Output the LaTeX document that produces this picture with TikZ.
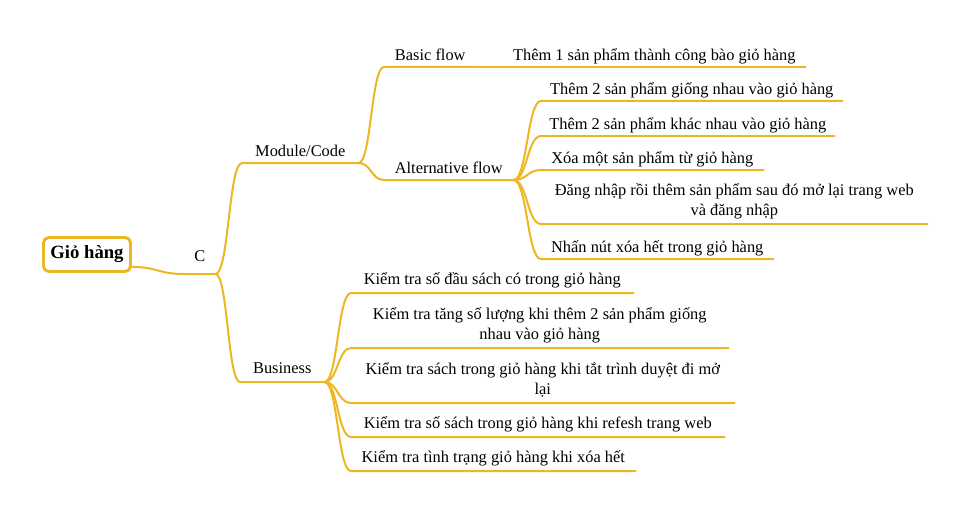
\documentclass[tikz,border=0pt]{standalone}
\usepackage{fontspec}
\setmainfont{Liberation Serif}
\usetikzlibrary{calc,backgrounds}
\definecolor{gold}{RGB}{236,183,33}
\newcommand{\leaffont}{\fontsize{12.3}{14.6}\selectfont}
\newcommand{\rootfont}{\fontsize{14}{16}\selectfont\bfseries}
\begin{document}
\begin{tikzpicture}[x=0.75pt,y=-0.75pt,
  topic/.style={anchor=south west, font=\leaffont, inner xsep=0pt, inner ysep=0pt, text depth=5pt, align=center},
  bizleaf/.style={text depth=6.3pt},
  wd/.style={minimum width=#1*0.75pt},
  rootbox/.style={draw=gold, line width=2.2pt, rounded corners=4pt, fill=white, minimum width=87*0.75pt, minimum height=34*0.75pt, font=\rootfont, inner sep=0pt},
  conn/.style={draw=gold, line width=1.5pt, line cap=round, line join=round},
  branch/.style={to path={let \p1=(\tikztostart), \p2=(\tikztotarget), \p3=($(\p1)!0.5!(\p2)$) in .. controls (\x3,\y1) and (\x3,\y2) .. (\tikztotarget)}}
]
\useasboundingbox (0,0) rectangle (964,510);

\node[rootbox] (root) at (87,254.5) {Giỏ hàng};
\node[topic, wd=31, text depth=9.5pt] (c) at (184,274) {C};
\node[topic, wd=116] (mod) at (242,163) {Module/Code};
\node[topic, wd=84, bizleaf] (bus) at (240,382) {Business};
\node[topic, wd=92] (basic) at (384,67) {Basic flow};
\node[topic, wd=129] (alt) at (384,180) {Alternative flow};
\node[topic, wd=302] (t1) at (503,67) {Thêm 1 sản phẩm thành công bào giỏ hàng};
\node[topic, wd=301] (a1) at (541,101) {Thêm 2 sản phẩm giống nhau vào giỏ hàng};
\node[topic, wd=293] (a2) at (541,136) {Thêm 2 sản phẩm khác nhau vào giỏ hàng};
\node[topic, wd=222] (a3) at (541,170) {Xóa một sản phẩm từ giỏ hàng};
\node[topic, wd=386, bizleaf] (a4) at (541,224) {Đăng nhập rồi thêm sản phẩm sau đó mở lại trang web\\và đăng nhập};
\node[topic, wd=232] (a5) at (541,259) {Nhấn nút xóa hết trong giỏ hàng};
\node[topic, wd=282, bizleaf] (k1) at (351,293) {Kiểm tra số đầu sách có trong giỏ hàng};
\node[topic, wd=377, bizleaf] (k2) at (351,348) {Kiểm tra tăng số lượng khi thêm 2 sản phẩm giống\\nhau vào giỏ hàng};
\node[topic, wd=383, bizleaf] (k3) at (351,403) {Kiểm tra sách trong giỏ hàng khi tắt trình duyệt đi mở\\lại};
\node[topic, wd=373, bizleaf] (k4) at (351,437) {Kiểm tra số sách trong giỏ hàng khi refesh trang web};
\node[topic, wd=284, bizleaf] (k5) at (351,471) {Kiểm tra tình trạng giỏ hàng khi xóa hết};

\begin{scope}[on background layer]
\draw[conn] ([yshift=4.5pt]root.south east) to[branch] (c.south west) -- (c.south east);
\draw[conn] (c.south east) to[branch] (mod.south west) -- (mod.south east);
\draw[conn] (c.south east) to[branch] (bus.south west) -- (bus.south east);
\draw[conn] (mod.south east) to[branch] (basic.south west) -- (basic.south east);
\draw[conn] (mod.south east) to[branch] (alt.south west) -- (alt.south east);
\draw[conn] (basic.south east) to[branch] (t1.south west) -- (t1.south east);
\foreach \leafname in {a1,a2,a3,a4,a5}
  \draw[conn] (alt.south east) to[branch] (\leafname.south west) -- (\leafname.south east);
\foreach \leafname in {k1,k2,k3,k4,k5}
  \draw[conn] (bus.south east) to[branch] (\leafname.south west) -- (\leafname.south east);
\end{scope}
\end{tikzpicture}
\end{document}
